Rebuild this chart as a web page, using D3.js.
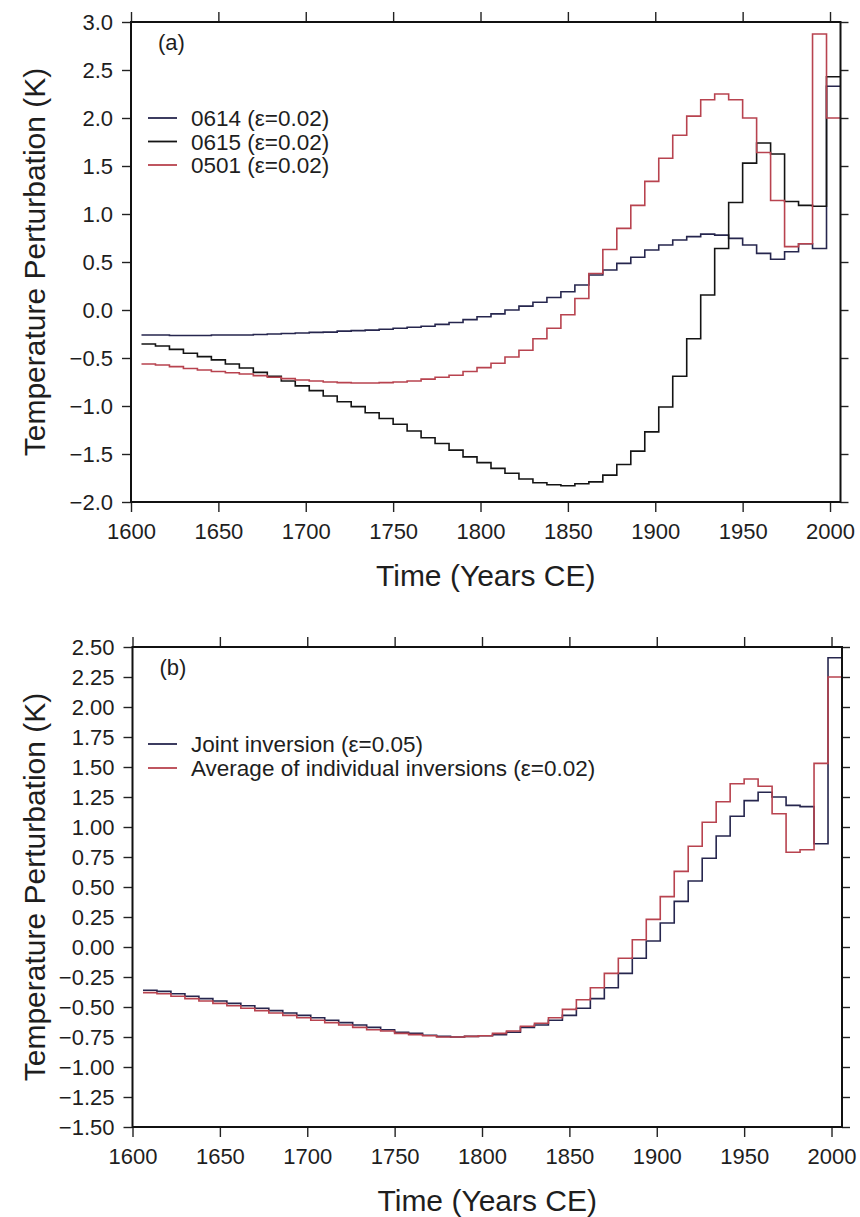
<!DOCTYPE html>
<html><head><meta charset="utf-8">
<script src="https://cdn.jsdelivr.net/npm/d3@7"></script>
<style>
body{margin:0;background:#fff}
svg{display:block;background:#fff}
text{font-family:"Liberation Sans",Arial,Helvetica,sans-serif;fill:#1e1e1e}
</style>
</head><body>
<svg id="c" width="860" height="1217"></svg>
<script>
// ---- data ----
const edges = [1606,1614,1622,1630,1638,1646,1654,1662,1670,1678,1686,1694,1702,1710,1718,1726,1734,1742,1750,1758,1766,1774,1782,1790,1798,1806,1814,1822,1830,1838,1846,1854,1862,1870,1878,1886,1894,1902,1910,1918,1926,1934,1942,1950,1958,1966,1974,1982,1990,1998,2006];

const s0614 = [-0.26,-0.26,-0.265,-0.265,-0.265,-0.26,-0.26,-0.26,-0.255,-0.25,
  -0.245,-0.24,-0.233,-0.23,-0.22,-0.215,-0.21,-0.20,-0.19,-0.18,
  -0.17,-0.15,-0.13,-0.10,-0.07,-0.04,0.00,0.04,0.08,0.13,
  0.19,0.26,0.365,0.417,0.486,0.549,0.625,0.677,0.729,0.764,
  0.79,0.78,0.746,0.677,0.59,0.528,0.607,0.69,0.64,2.33];
const s0615 = [-0.354,-0.375,-0.41,-0.45,-0.486,-0.52,-0.5625,-0.604,-0.65,-0.69,
  -0.74,-0.79,-0.84,-0.896,-0.955,-1.007,-1.07,-1.13,-1.19,-1.26,
  -1.33,-1.39,-1.46,-1.53,-1.59,-1.65,-1.70,-1.76,-1.80,-1.82,
  -1.83,-1.81,-1.79,-1.72,-1.61,-1.47,-1.27,-1.01,-0.69,-0.30,
  0.156,0.64,1.12,1.53,1.74,1.625,1.13,1.09,1.08,2.43];
const s0501 = [-0.5625,-0.573,-0.59,-0.61,-0.625,-0.64,-0.653,-0.667,-0.684,-0.70,
  -0.715,-0.729,-0.74,-0.75,-0.757,-0.76,-0.76,-0.757,-0.75,-0.74,
  -0.72,-0.70,-0.68,-0.64,-0.60,-0.555,-0.49,-0.42,-0.30,-0.19,
  -0.05,0.12,0.38,0.63,0.85,1.09,1.34,1.58,1.82,2.02,
  2.19,2.25,2.19,2.00,1.64,1.14,0.66,0.69,2.875,2.0];

const joint = [-0.36,-0.37,-0.39,-0.41,-0.43,-0.45,-0.47,-0.49,-0.51,-0.53,
  -0.55,-0.57,-0.59,-0.61,-0.63,-0.65,-0.67,-0.69,-0.71,-0.72,
  -0.735,-0.745,-0.75,-0.745,-0.74,-0.73,-0.71,-0.67,-0.65,-0.61,
  -0.57,-0.51,-0.43,-0.34,-0.22,-0.094,0.05,0.20,0.38,0.55,
  0.74,0.925,1.09,1.22,1.29,1.25,1.18,1.17,0.86,2.41];
const average = [-0.38,-0.39,-0.41,-0.43,-0.45,-0.47,-0.49,-0.51,-0.53,-0.55,
  -0.57,-0.59,-0.61,-0.63,-0.65,-0.67,-0.69,-0.70,-0.72,-0.73,
  -0.74,-0.75,-0.75,-0.745,-0.74,-0.72,-0.70,-0.66,-0.636,-0.59,
  -0.52,-0.44,-0.34,-0.22,-0.094,0.06,0.23,0.42,0.63,0.84,
  1.04,1.21,1.36,1.40,1.34,1.11,0.79,0.81,1.53,2.25];

const xTicks = [1600,1650,1700,1750,1800,1850,1900,1950,2000];
const yTicksA = [-2.0,-1.5,-1.0,-0.5,0.0,0.5,1.0,1.5,2.0,2.5,3.0];
const yTicksB = [-1.5,-1.25,-1.0,-0.75,-0.5,-0.25,0,0.25,0.5,0.75,1.0,1.25,1.5,1.75,2.0,2.25,2.5];

const labelsA = ["0614 (\u03b5=0.02)","0615 (\u03b5=0.02)","0501 (\u03b5=0.02)"];
const labelsB = ["Joint inversion (\u03b5=0.05)","Average of individual inversions (\u03b5=0.02)"];

const NAVY = "#26264e", BLACK = "#141414", RED = "#b8434f";

const svg = d3.select("#c");
svg.append("rect").attr("width",860).attr("height",1217).attr("fill","#fff");

function drawPanel(cfg){
  const g = svg.append("g");
  const x = d3.scaleLinear().domain([1600,2006]).range([cfg.left,cfg.right]);
  const y = d3.scaleLinear().domain(cfg.yDomain).range([cfg.bottom,cfg.top]);
  const cid = "clip"+cfg.id;
  svg.append("clipPath").attr("id",cid).append("rect")
    .attr("x",cfg.left).attr("y",cfg.top).attr("width",cfg.right-cfg.left).attr("height",cfg.bottom-cfg.top);

  const line = d3.line().x(d=>x(d[0])).y(d=>y(d[1])).curve(d3.curveStepAfter);
  const lg = g.append("g").attr("clip-path",`url(#${cid})`);
  cfg.series.forEach(s=>{
    const pts = s.values.map((v,i)=>[edges[i],v]);
    pts.push([edges[edges.length-1], s.values[s.values.length-1]]);
    lg.append("path").attr("d",line(pts)).attr("fill","none")
      .attr("stroke",s.color).attr("stroke-width",s.w||1.6).attr("stroke-linejoin","miter");
  });

  // axes
  const fs = "22px";
  const ax = g.append("g").attr("transform",`translate(${cfg.left},0)`)
    .call(d3.axisLeft(y).tickValues(cfg.yTicks).tickFormat(d3.format(cfg.fmt)).tickSize(9).tickPadding(9).tickSizeOuter(0));
  const bx = g.append("g").attr("transform",`translate(0,${cfg.bottom})`)
    .call(d3.axisBottom(x).tickValues(xTicks).tickFormat(d3.format("d")).tickSize(10).tickPadding(11).tickSizeOuter(0));
  const rx = g.append("g").attr("transform",`translate(${cfg.right},0)`)
    .call(d3.axisRight(y).tickValues(cfg.yTicks).tickFormat("").tickSize(8).tickSizeOuter(0));
  const tx = g.append("g").attr("transform",`translate(0,${cfg.top})`)
    .call(d3.axisTop(x).tickValues(xTicks).tickFormat("").tickSize(10).tickSizeOuter(0));
  [ax,bx,rx,tx].forEach(a=>{
    a.select(".domain").remove();
    a.selectAll("line").attr("stroke","#222").attr("stroke-width",1.4);
    a.selectAll("text").attr("font-size",fs).attr("font-family",'"Liberation Sans",Arial,sans-serif').attr("fill","#1e1e1e");
  });
  g.append("rect").attr("x",cfg.left).attr("y",cfg.top)
    .attr("width",cfg.right-cfg.left).attr("height",cfg.bottom-cfg.top)
    .attr("fill","none").attr("stroke","#111").attr("stroke-width",2);

  // titles
  g.append("text").attr("x",(cfg.left+cfg.right)/2).attr("y",cfg.bottom+84)
    .attr("text-anchor","middle").attr("font-size","30px").text("Time (Years CE)");
  g.append("text").attr("transform",`translate(45,${(cfg.top+cfg.bottom)/2}) rotate(-90)`)
    .attr("text-anchor","middle").attr("font-size","30px").text("Temperature Perturbation (K)");

  // panel label
  g.append("text").attr("x",cfg.left+27).attr("y",cfg.top+28).attr("font-size","22px").text(cfg.tag);

  // legend
  cfg.series.forEach((s,i)=>{
    const ly = cfg.legendY + i*cfg.legendDy;
    g.append("line").attr("x1",148).attr("x2",177).attr("y1",ly).attr("y2",ly)
      .attr("stroke",s.color).attr("stroke-width",1.8);
    g.append("text").attr("x",191).attr("y",ly+8).attr("font-size","22.5px").text(s.label);
  });
}

drawPanel({id:"a", left:131, right:840.5, top:22, bottom:502, yDomain:[-2,3], yTicks:yTicksA, fmt:".1f",
  tag:"(a)", legendY:118, legendDy:23.5,
  series:[
    {values:s0614, color:NAVY, label:labelsA[0]},
    {values:s0615, color:BLACK, label:labelsA[1]},
    {values:s0501, color:RED, label:labelsA[2]}
  ]});

drawPanel({id:"b", left:132.5, right:842, top:647, bottom:1127, yDomain:[-1.5,2.5], yTicks:yTicksB, fmt:".2f",
  tag:"(b)", legendY:744, legendDy:24,
  series:[
    {values:joint, color:NAVY, label:labelsB[0]},
    {values:average, color:RED, label:labelsB[1]}
  ]});
</script>
</body></html>
